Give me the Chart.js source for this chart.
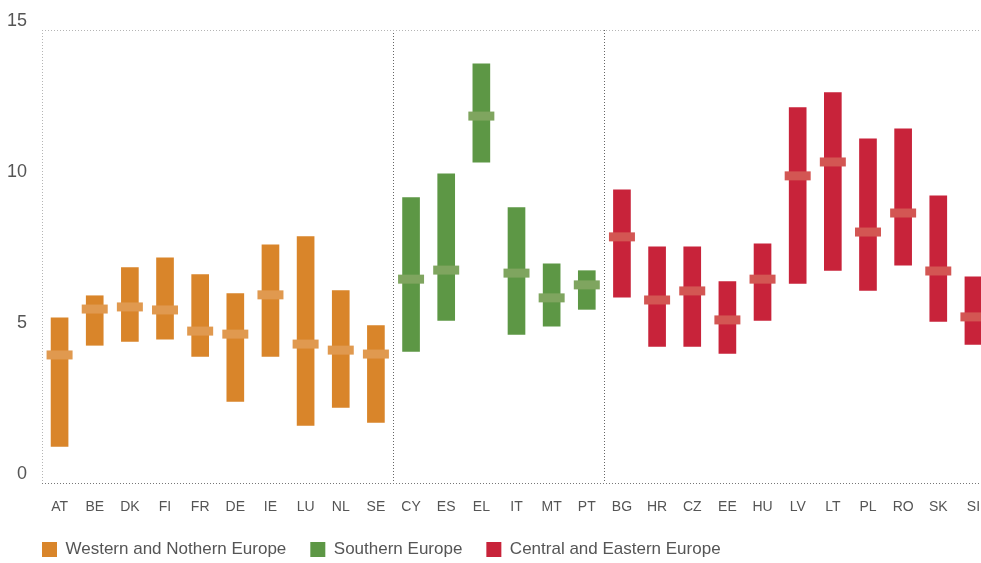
<!DOCTYPE html>
<html>
<head>
<meta charset="utf-8">
<script src="https://cdn.jsdelivr.net/npm/chart.js@4.4.0/dist/chart.umd.min.js"></script>
<style>
  html, body { margin: 0; padding: 0; overflow: hidden; background: #fff; }
  /* the chart runs a bit past the window on the right and bottom, like the cropped original */
  #wrap { width: 1000px; height: 568px; }
</style>
</head>
<body>
<div id="wrap"><canvas id="chart"></canvas></div>
<script>
const countries = ['AT','BE','DK','FI','FR','DE','IE','LU','NL','SE',
                   'CY','ES','EL','IT','MT','PT',
                   'BG','HR','CZ','EE','HU','LV','LT','PL','RO','SK','SI'];
const regionNames = ['Western and Nothern Europe', 'Southern Europe', 'Central and Eastern Europe'];
const regionOf = [0,0,0,0,0,0,0,0,0,0, 1,1,1,1,1,1, 2,2,2,2,2,2,2,2,2,2,2];

const lows    = [1.21, 4.56, 4.69, 4.76, 4.19, 2.70, 4.19, 1.91, 2.50, 2.01,
                 4.36, 5.38, 10.62, 4.92, 5.19, 5.75,
                 6.15, 4.52, 4.52, 4.29, 5.38, 6.61, 7.04, 6.38, 7.21, 5.35, 4.59];
const highs   = [5.47, 6.20, 7.13, 7.46, 6.90, 6.27, 7.89, 8.16, 6.37, 5.21,
                 9.45, 10.24, 13.88, 9.12, 7.26, 7.03,
                 9.71, 7.82, 7.82, 6.67, 7.92, 12.43, 12.93, 11.40, 11.73, 9.51, 6.83];
const medians = [4.24, 5.76, 5.83, 5.73, 5.03, 4.93, 6.23, 4.60, 4.40, 4.27,
                 6.75, 7.05, 12.15, 6.95, 6.13, 6.56,
                 8.15, 6.06, 6.36, 5.40, 6.75, 10.17, 10.63, 8.31, 8.94, 7.02, 5.50];
const yTicks = [0, 5, 10, 15];

const barColors    = ['#D9852A', '#5D9745', '#C8233A'];
const medianColors = ['#E0994F', '#7FA55F', '#D35653'];
const FONT = "'Liberation Sans', Arial, sans-serif";
const TEXT = '#555';

const barSets = regionNames.map((name, r) => ({
  type: 'bar',
  label: name,
  data: countries.map((c, i) => regionOf[i] === r ? [lows[i], highs[i]] : null),
  backgroundColor: barColors[r],
  borderWidth: 0,
  barThickness: 17,
  grouped: false,
  order: 2
}));

const medianSet = {
  type: 'line',
  label: 'median',
  data: medians,
  showLine: false,
  pointStyle: 'line',
  pointRadius: 13,
  pointHoverRadius: 13,
  pointBorderWidth: 9,
  pointHoverBorderWidth: 9,
  pointBorderColor: regionOf.map(r => medianColors[r]),
  order: 1
};

// start the legend row under the plot's left edge instead of the canvas edge
const legendAtPlotLeft = {
  id: 'legendAtPlotLeft',
  afterLayout(chart) {
    const lg = chart.legend;
    lg.left = chart.chartArea.left - lg.options.labels.padding;
  }
};

new Chart(document.getElementById('chart'), {
  type: 'bar',
  data: { labels: countries, datasets: [...barSets, medianSet] },
  plugins: [legendAtPlotLeft],
  options: {
    responsive: true,
    maintainAspectRatio: false,
    animation: false,
    layout: { autoPadding: false, padding: { left: 0, right: 9, top: 30, bottom: 0 } },
    plugins: {
      tooltip: { enabled: false },
      legend: {
        position: 'bottom',
        align: 'start',
        labels: {
          filter: item => item.datasetIndex < regionNames.length,
          boxWidth: 15,
          boxHeight: 15,
          padding: 24,
          color: TEXT,
          font: { family: FONT, size: 17 }
        }
      }
    },
    scales: {
      x: {
        offset: true,
        afterFit: s => { s.paddingLeft = 0; s.paddingRight = 0; s.height = 34; },
        grid: {
          offset: true,
          drawTicks: false,
          lineWidth: 1,
          color: c => c.index === 0 ? '#b5b5b5' : (c.index === 10 || c.index === 16) ? '#666' : 'rgba(0,0,0,0)'
        },
        border: { display: false, dash: [1, 2] },
        ticks: {
          padding: 16,
          maxRotation: 0,
          autoSkip: false,
          color: TEXT,
          font: { family: FONT, size: 14 }
        }
      },
      y: {
        min: 0,
        max: 15,
        afterFit: s => { s.width = 42; },
        afterBuildTicks: s => { s.ticks = yTicks.map(v => ({ value: v })); },
        grid: {
          drawTicks: false,
          lineWidth: 1,
          color: c => c.tick && c.tick.value === 0 ? '#777' : (c.tick && c.tick.value === 15 ? '#b5b5b5' : 'rgba(0,0,0,0)')
        },
        border: { display: false, dash: [1, 2] },
        ticks: {
          padding: 15,
          labelOffset: -9,
          color: TEXT,
          font: { family: FONT, size: 18 }
        }
      }
    }
  }
});
</script>
</body>
</html>
